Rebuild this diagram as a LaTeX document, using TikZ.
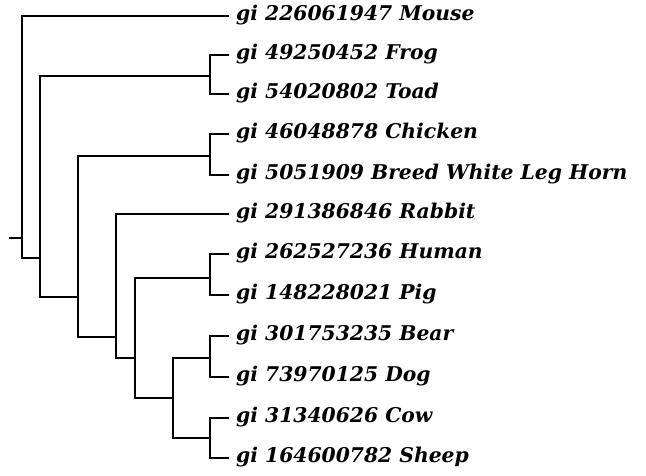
\documentclass[tikz,border=0pt]{standalone}
\usepackage{fontspec}
\setmainfont{DejaVu Serif}
\begin{document}
\begin{tikzpicture}[x=1pt,y=-1pt,
  branch/.style={line width=2pt,line cap=rect,black},
  leaf/.style={anchor=west,inner xsep=8pt,inner ysep=0pt,text height=0.98em,text depth=0pt,
    font=\fontsize{20.3}{24}\selectfont\bfseries\itshape}]
\useasboundingbox (0,0) rectangle (646,476);

% leaf labels
\node[leaf] (mouse)   at (228,16)  {gi 226061947 Mouse};
\node[leaf] (frog)    at (228,55)  {gi 49250452 Frog};
\node[leaf] (toad)    at (228,94)  {gi 54020802 Toad};
\node[leaf] (chicken) at (228,134) {gi 46048878 Chicken};
\node[leaf] (breed)   at (228,175) {gi 5051909 Breed White Leg Horn};
\node[leaf] (rabbit)  at (228,214) {gi 291386846 Rabbit};
\node[leaf] (human)   at (228,254) {gi 262527236 Human};
\node[leaf] (pig)     at (228,295) {gi 148228021 Pig};
\node[leaf] (bear)    at (228,336) {gi 301753235 Bear};
\node[leaf] (dog)     at (228,377) {gi 73970125 Dog};
\node[leaf] (cow)     at (228,418) {gi 31340626 Cow};
\node[leaf] (sheep)   at (228,458) {gi 164600782 Sheep};

% internal nodes
\coordinate (stub) at (10,238);
\coordinate (root) at (22,238);
\coordinate (n1)   at (40,258);
\coordinate (n2)   at (78,297);
\coordinate (n3)   at (116,337);
\coordinate (n4)   at (135,358);
\coordinate (n5)   at (173,398);
\coordinate (ft)   at (210,76);
\coordinate (cb)   at (210,156);
\coordinate (hp)   at (210,278);
\coordinate (bd)   at (210,358);
\coordinate (cs)   at (210,438);

% branches
\draw[branch] (stub) -- (root);
\draw[branch] (root) |- (mouse.west);
\draw[branch] (root) |- (n1);
\draw[branch] (n1) |- (ft);
\draw[branch] (n1) |- (n2);
\draw[branch] (ft) |- (frog.west);
\draw[branch] (ft) |- (toad.west);
\draw[branch] (n2) |- (cb);
\draw[branch] (n2) |- (n3);
\draw[branch] (cb) |- (chicken.west);
\draw[branch] (cb) |- (breed.west);
\draw[branch] (n3) |- (rabbit.west);
\draw[branch] (n3) |- (n4);
\draw[branch] (n4) |- (hp);
\draw[branch] (n4) |- (n5);
\draw[branch] (hp) |- (human.west);
\draw[branch] (hp) |- (pig.west);
\draw[branch] (n5) |- (bd);
\draw[branch] (n5) |- (cs);
\draw[branch] (bd) |- (bear.west);
\draw[branch] (bd) |- (dog.west);
\draw[branch] (cs) |- (cow.west);
\draw[branch] (cs) |- (sheep.west);
\end{tikzpicture}
\end{document}
